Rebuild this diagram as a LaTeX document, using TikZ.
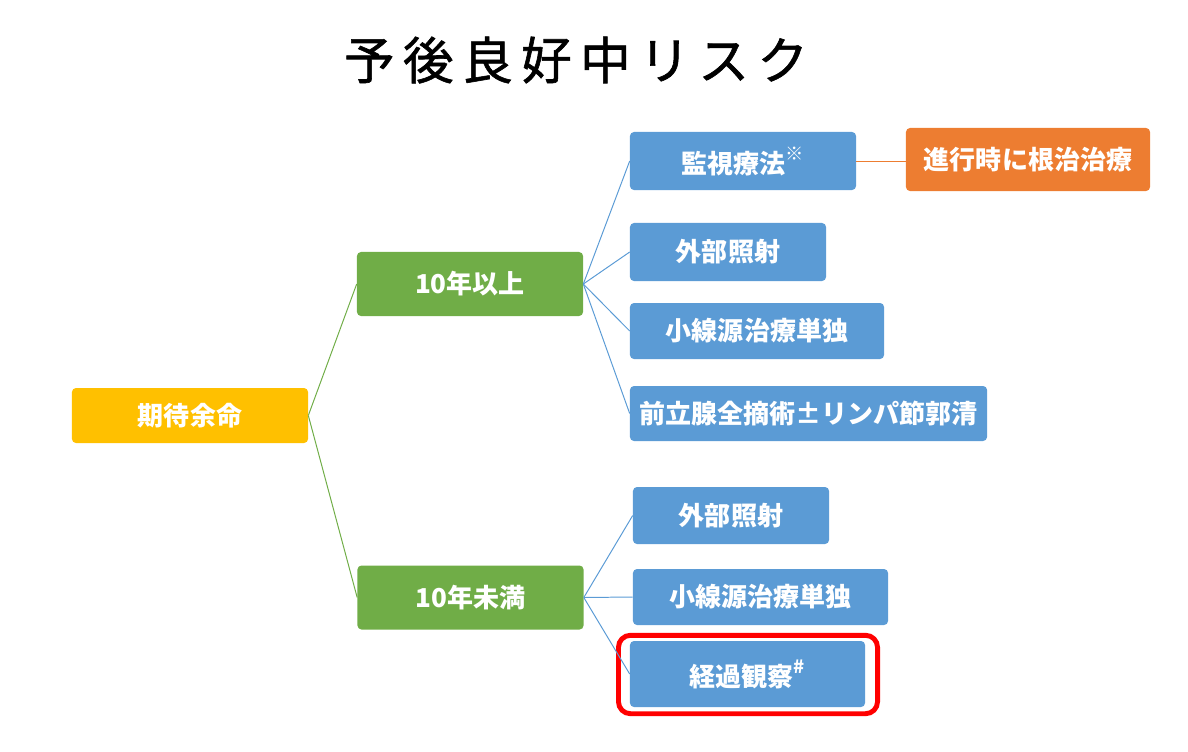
\documentclass[tikz,border=0pt]{standalone}
\usepackage{fontspec}
\setmainfont{Noto Sans CJK JP}
\newfontfamily\titlefont[FakeBold=1.2]{Noto Sans CJK JP}
\definecolor{boxyellow}{HTML}{FFC000}
\definecolor{boxgreen}{HTML}{70AD47}
\definecolor{boxblue}{HTML}{5B9BD5}
\definecolor{boxorange}{HTML}{ED7D31}
\definecolor{markred}{HTML}{FF0000}
\tikzset{
  box/.style     = {shape = rectangle, rounded corners = 0.1cm, inner sep = 0pt,
                    text = white, font = \fontsize{18.5}{22}\selectfont\bfseries},
  rootbox/.style = {box, fill = boxyellow},
  agebox/.style  = {box, fill = boxgreen},
  treatbox/.style= {box, fill = boxblue},
  notebox/.style = {box, fill = boxorange},
}
\newcommand{\supmark}[1]{\raisebox{0.5em}{\fontsize{13}{13}\selectfont #1}}
\begin{document}
\begin{tikzpicture}[x = 0.025cm, y = -0.025cm]
        \useasboundingbox (0, 0) rectangle (1188, 751);

        % ------------------------------------------------------------------------
        % Title
        \node[font = \titlefont\fontsize{36}{42}\selectfont] at (576, 60) (title)
          {予\,後\,良\,好\,中\,リ\,ス\,ク};

        % ------------------------------------------------------------------------
        % Root and age groups
        \node[rootbox, minimum width = 5.9cm,  minimum height = 1.375cm] at (190, 415.5) (life) {期待余命};

        \node[agebox,  minimum width = 5.65cm, minimum height = 1.6cm]   at (470, 284)   (over)  {10年以上};
        \node[agebox,  minimum width = 5.65cm, minimum height = 1.6cm]   at (470.5, 597.5) (under) {10年未満};

        \draw[boxgreen, line width = 0.7pt]
          (life.east) edge (over.west)
          (life.east) edge (under.west)
        ;

        % ------------------------------------------------------------------------
        % 10 years or more
        \node[treatbox, minimum width = 5.65cm,  minimum height = 1.45cm]  at (743, 161)   (watch) {監視療法\supmark{※}};
        \node[treatbox, minimum width = 4.9cm,   minimum height = 1.45cm]  at (728, 252)   (ext)   {外部照射};
        \node[treatbox, minimum width = 6.35cm,  minimum height = 1.4cm]   at (757, 331)   (brachy){小線源治療単独};
        \node[treatbox, minimum width = 8.925cm, minimum height = 1.375cm] at (808.5, 413.5) (prost) {前立腺全摘術±リンパ節郭清};

        \node[notebox,  minimum width = 6.1cm,   minimum height = 1.575cm] at (1028, 159.5) (cure)  {進行時に根治治療};

        \draw[boxblue, line width = 0.7pt]
          (over.east) edge (watch.west)
          (over.east) edge (ext.west)
          (over.east) edge (brachy.west)
          (over.east) edge (prost.west)
        ;
        \draw[boxorange, line width = 0.7pt]
          (watch.east) edge (cure.west |- watch.east)
        ;

        % ------------------------------------------------------------------------
        % Less than 10 years
        \node[treatbox, minimum width = 4.9cm,   minimum height = 1.425cm] at (731, 515.5) (ext2)    {外部照射};
        \node[treatbox, minimum width = 6.375cm, minimum height = 1.4cm]   at (760.5, 597) (brachy2) {小線源治療単独};
        \node[treatbox, minimum width = 5.875cm, minimum height = 1.65cm]  at (747.5, 674) (observe) {経過観察\supmark{\#}};

        \node[shape = rectangle, rounded corners = 0.3cm, draw = markred, line width = 3.5pt,
              minimum width = 6.475cm, minimum height = 1.96cm] at (748, 674.5) (mark) {};

        \draw[boxblue, line width = 0.7pt]
          (under.east) edge (ext2.west)
          (under.east) edge (brachy2.west)
          (under.east) edge (observe.west)
        ;
      \end{tikzpicture}
\end{document}
